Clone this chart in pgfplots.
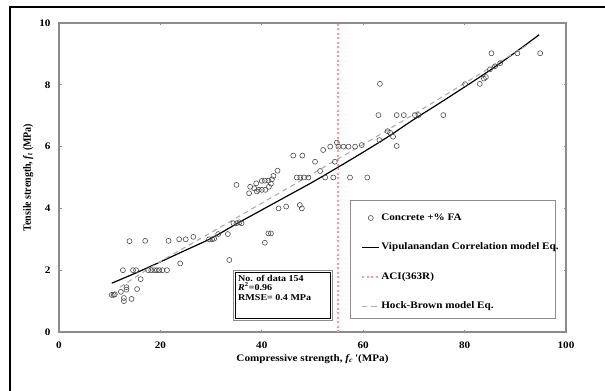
\documentclass[border=0pt]{standalone}
\usepackage{pgfplots}
\pgfplotsset{compat=1.18}
\usepackage{fontspec}
\setmainfont{Liberation Serif}
\definecolor{mkgray}{rgb}{0.3,0.3,0.3}
\definecolor{acired}{rgb}{1.0,0.6,0.6}
\definecolor{hbgray}{rgb}{0.68,0.68,0.68}
\definecolor{framegray}{rgb}{0.55,0.55,0.55}
\pgfplotstableread{
x y
10.4 1.2
10.8 1.2
11.0 1.22
12.2 1.3
12.8 1.0
12.8 1.1
13.3 1.45
13.3 1.37
14.3 1.07
15.4 1.39
16.1 1.71
12.6 2.0
14.6 2.0
15.2 2.0
17.6 2.0
18.2 2.0
18.8 2.0
19.3 2.0
19.8 2.0
20.4 2.0
21.3 2.0
23.9 2.22
13.9 2.94
17.0 2.95
21.6 2.95
23.7 3.0
25.0 3.0
26.5 3.08
29.6 3.0
30.2 3.0
30.6 3.02
31.4 3.17
33.3 3.17
33.6 2.33
34.4 3.52
35.0 3.52
35.6 3.55
36.0 3.52
35.0 4.76
37.5 4.49
37.7 4.70
38.9 4.81
39.4 4.6
40.0 4.89
40.0 4.6
40.6 4.9
40.7 4.6
41.3 4.9
41.4 4.7
41.8 4.8
42.0 4.94
42.3 5.05
43.1 5.22
38.5 4.65
39.0 4.55
40.6 2.89
41.3 3.19
41.8 3.19
43.3 4.0
44.8 4.06
47.5 4.11
47.9 4.0
46.2 5.71
48.0 5.71
46.9 5.0
47.6 5.0
48.3 5.0
49.2 5.0
50.5 5.51
51.5 5.21
52.1 5.89
53.5 6.0
52.5 5.0
54.1 5.0
54.4 5.51
54.8 6.13
55.1 6.0
56.1 6.0
57.1 6.0
57.4 5.0
58.4 6.0
59.7 6.05
60.8 5.0
63.0 7.02
63.3 8.03
63.2 6.21
64.8 6.5
65.3 6.45
65.9 6.32
66.6 7.02
68.0 7.02
66.6 6.02
70.2 7.02
70.9 7.02
75.8 7.02
80.1 8.02
83.0 8.03
83.8 8.2
84.2 8.25
85.0 8.5
86.0 8.6
87.0 8.7
85.3 9.02
90.4 9.02
94.9 9.02
}\concretedata
\pgfplotstableread{
x y
10.4 1.58
15 1.9
20 2.27
25 2.65
30 3.03
35 3.5
40 3.95
45 4.4
50 4.85
55 5.33
60 5.82
65 6.33
70 6.88
75 7.4
80 7.93
85 8.47
90 9.05
94.7 9.62
}\vipdata
\pgfplotstableread{
x y
12 1.45
20 2.28
30 3.22
40 4.17
50 5.12
55 5.6
60 6.07
70 7.05
80 8.05
90 9.05
93 9.35
}\hbdata
\begin{document}
\begin{tikzpicture}[x=1bp,y=1bp]
\path[use as bounding box] (0,0) rectangle (605,390);
\draw[line width=1.8bp] (10,-2) -- (10,383) -- (607,383);
\begin{axis}[
  at={(59bp,58bp)}, anchor=south west,
  scale only axis, width=507bp, height=309bp,
  xmin=0, xmax=100, ymin=0, ymax=10,
  xtick={0,20,...,100}, ytick={0,2,...,10},
  tick align=inside, major tick length=2.5bp,
  axis line style={framegray, line width=1.1bp},
  tick style={framegray, line width=0.7bp},
  /pgf/number format/assume math mode=true,
  ticklabel style={font=\fontsize{10}{11}\selectfont\bfseries, xscale=1.12},
  xticklabel style={yshift=-6bp},
  yticklabel style={xshift=-4bp},
  xlabel={Compressive strength, \textit{f\textsubscript{c}}\,\textquotesingle(MPa)},
  ylabel={Tensile strength, \textit{f\textsubscript{t}} (MPa)},
  label style={font=\fontsize{10}{11}\selectfont\bfseries},
  xlabel style={at={(axis description cs:0.5,-0.087)}, anchor=center, xscale=1.12},
  ylabel style={at={(axis description cs:-0.061,0.5)}, anchor=center, yscale=1.12},
  legend style={draw=none, fill=none, at={(axis cs:59.6,3.86)}, anchor=north west,
     inner sep=0pt, row sep=19bp, font=\fontsize{10}{11}\selectfont\bfseries,
     nodes={xscale=1.12, inner sep=1bp}, cells={anchor=west}},
  legend cell align=left,
  clip=false,
]
\addplot[only marks, mark=o, mark size=2.5bp, mark options={draw=mkgray, line width=0.6bp}] table[x=x,y=y] {\concretedata};
\addlegendentry{Concrete +\% FA}
\addplot[black, line width=1.2bp, smooth] table[x=x,y=y] {\vipdata};
\addlegendentry{Vipulanandan Correlation model Eq.}
\addplot[acired, line width=1.8bp, dash pattern=on 2bp off 2.5bp] coordinates {(55,0) (55,10)};
\addlegendentry{ACI(363R)}
\addplot[hbgray, line width=1.1bp, dash pattern=on 5bp off 4bp, smooth] table[x=x,y=y] {\hbdata};
\addlegendentry{Hock-Brown model Eq.}
\draw[framegray, line width=0.9bp] (axis cs:57.4,0.45) rectangle (axis cs:98.0,4.27);
\draw[framegray, line width=0.8bp] (axis cs:34.4,0.37) rectangle (axis cs:53.9,1.99);
\draw[black, line width=0.6bp] (axis cs:34.8,0.43) rectangle (axis cs:53.5,1.93);
\node[anchor=north west, align=left, inner sep=0pt, xscale=1.12,
      font=\fontsize{9}{9.8}\selectfont\bfseries] at (axis cs:35.3,1.86)
  {No. of data 154\\\textit{R}\textsuperscript{2}=0.96\\RMSE= 0.4 MPa};
\end{axis}
\end{tikzpicture}
\end{document}
